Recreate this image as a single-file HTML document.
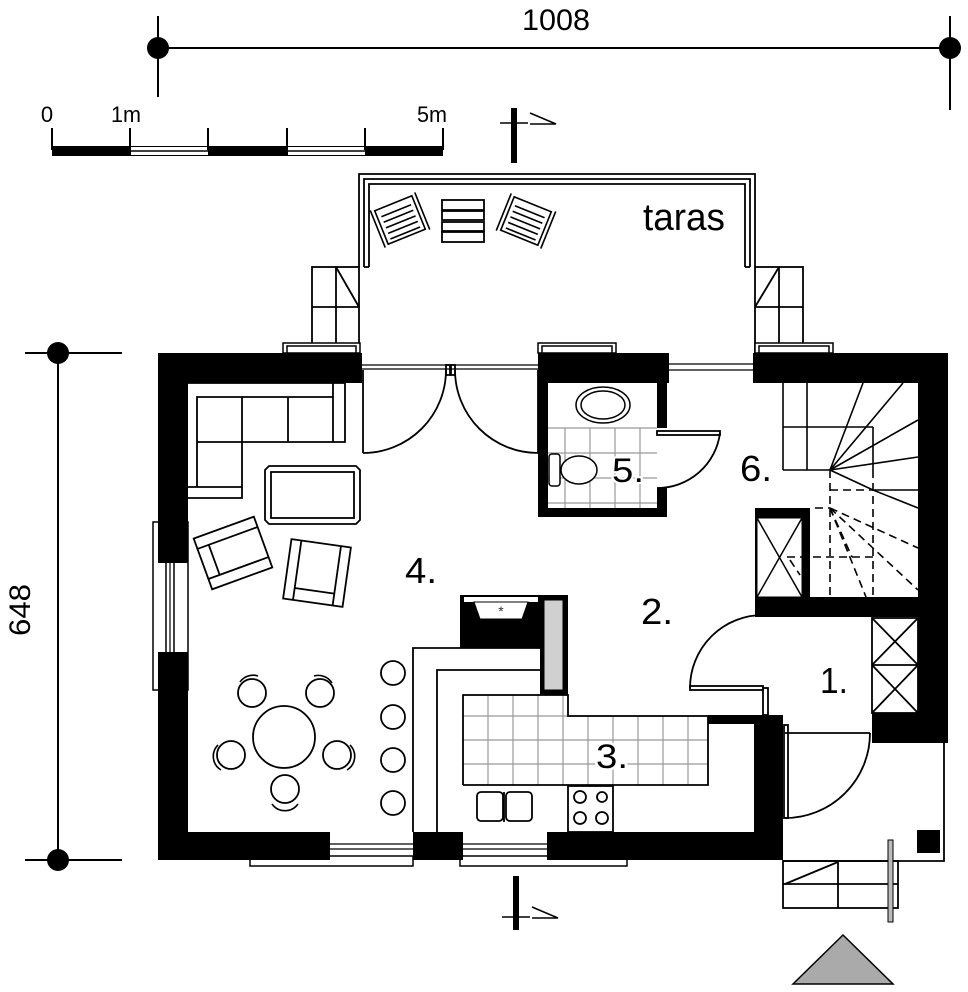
<!DOCTYPE html>
<html><head><meta charset="utf-8"><style>
html,body{margin:0;padding:0;background:#fff;}
svg{display:block;font-family:"Liberation Sans",Arial,sans-serif;}
</style></head><body>
<svg width="968" height="992" viewBox="0 0 968 992" xmlns="http://www.w3.org/2000/svg">
<rect width="968" height="992" fill="#fff"/>
<g stroke="#000" fill="none" stroke-width="2">
<line x1="158" y1="48" x2="950" y2="48"/>
<line x1="158" y1="16" x2="158" y2="97"/>
<line x1="950" y1="16" x2="950" y2="110"/>
<line x1="58" y1="353" x2="58" y2="860"/>
<line x1="25" y1="353" x2="122" y2="353"/>
<line x1="25" y1="860" x2="122" y2="860"/>
</g>
<circle cx="158" cy="48" r="11"/><circle cx="950" cy="48" r="11"/>
<circle cx="58" cy="353" r="11"/><circle cx="58" cy="860" r="11"/>
<text x="556" y="30" font-size="30" text-anchor="middle" textLength="68" lengthAdjust="spacingAndGlyphs">1008</text>
<text transform="translate(30,610) rotate(-90)" font-size="30" text-anchor="middle" textLength="52" lengthAdjust="spacingAndGlyphs">648</text>

<g>
<rect x="52" y="146" width="391" height="10" fill="#000"/>
<rect x="131" y="147" width="77" height="8" fill="#fff"/>
<rect x="288" y="147" width="77" height="8" fill="#fff"/>
<line x1="131" y1="151" x2="208" y2="151" stroke="#000" stroke-width="1.5"/>
<line x1="288" y1="151" x2="365" y2="151" stroke="#000" stroke-width="1.5"/>
<g stroke="#000" stroke-width="2">
<line x1="52" y1="128" x2="52" y2="150"/><line x1="130" y1="128" x2="130" y2="150"/>
<line x1="208" y1="128" x2="208" y2="150"/><line x1="287" y1="128" x2="287" y2="150"/>
<line x1="365" y1="128" x2="365" y2="150"/><line x1="443" y1="128" x2="443" y2="150"/>
</g>
<text x="47" y="122" font-size="22" text-anchor="middle">0</text>
<text x="126" y="122" font-size="22" text-anchor="middle" textLength="30" lengthAdjust="spacingAndGlyphs">1m</text>
<text x="432" y="122" font-size="22" text-anchor="middle" textLength="30" lengthAdjust="spacingAndGlyphs">5m</text>
</g>

<rect x="511" y="108" width="6" height="55" fill="#000"/>
<line x1="500" y1="123" x2="528" y2="123" stroke="#000" stroke-width="1.5"/>
<polyline points="530,113 556,124 530,124" fill="none" stroke="#000" stroke-width="1.5"/>
<rect x="513" y="876" width="6" height="54" fill="#000"/>
<line x1="502" y1="917" x2="530" y2="917" stroke="#000" stroke-width="1.5"/>
<polyline points="532,907 558,918 532,918" fill="none" stroke="#000" stroke-width="1.5"/>

<g stroke="#000" fill="none" stroke-width="1.8">
<path d="M359 267 V174 H755 V267"/>
<path d="M364 267 V179 H750 V267"/>
<path d="M369 267 V184 H745 V267"/>
<line x1="364" y1="267" x2="369" y2="267"/><line x1="745" y1="267" x2="750" y2="267"/>
<rect x="312" y="267" width="47" height="86"/>
<line x1="336" y1="267" x2="336" y2="353"/><line x1="312" y1="307" x2="359" y2="307"/>
<line x1="336" y1="267" x2="359" y2="307"/>
<rect x="755" y="267" width="48" height="86"/>
<line x1="779" y1="267" x2="779" y2="353"/><line x1="755" y1="307" x2="803" y2="307"/>
<line x1="779" y1="267" x2="755" y2="307"/>
<rect x="442" y="200" width="42" height="10"/><rect x="442" y="211" width="42" height="9"/>
<rect x="442" y="222" width="42" height="9"/><rect x="442" y="232" width="42" height="10"/>
</g>
<g transform="translate(400,220) rotate(-22)" stroke="#000" fill="none" stroke-width="1.6">
<rect x="-20" y="-18" width="40" height="36"/>
<line x1="-24" y1="-20" x2="-24" y2="20"/><line x1="24" y1="-20" x2="24" y2="20"/>
<line x1="-16" y1="-10" x2="16" y2="-10"/><line x1="-16" y1="-4" x2="16" y2="-4"/>
<line x1="-16" y1="2" x2="16" y2="2"/><line x1="-16" y1="8" x2="16" y2="8"/><line x1="-16" y1="14" x2="16" y2="14"/>
</g>
<g transform="translate(526,221) rotate(22)" stroke="#000" fill="none" stroke-width="1.6">
<rect x="-20" y="-18" width="40" height="36"/>
<line x1="-24" y1="-20" x2="-24" y2="20"/><line x1="24" y1="-20" x2="24" y2="20"/>
<line x1="-16" y1="-10" x2="16" y2="-10"/><line x1="-16" y1="-4" x2="16" y2="-4"/>
<line x1="-16" y1="2" x2="16" y2="2"/><line x1="-16" y1="8" x2="16" y2="8"/><line x1="-16" y1="14" x2="16" y2="14"/>
</g>
<text x="684" y="230" font-size="38" text-anchor="middle" textLength="82" lengthAdjust="spacingAndGlyphs">taras</text>

<g stroke="#000" fill="#fff" stroke-width="1.5">
<rect x="283" y="343" width="77" height="10"/><rect x="287" y="346" width="69" height="7"/>
<rect x="538" y="343" width="78" height="10"/><rect x="542" y="346" width="70" height="7"/>
<rect x="755" y="343" width="78" height="10"/><rect x="759" y="346" width="70" height="7"/>
<rect x="153" y="522" width="35" height="168"/>
<rect x="166" y="560" width="8" height="95"/>
<rect x="250" y="856" width="163" height="10"/>
<rect x="460" y="856" width="167" height="10"/>
</g>

<g fill="#000">
<rect x="158" y="353" width="204" height="30"/>
<rect x="158" y="353" width="30" height="210"/>
<rect x="158" y="652" width="30" height="208"/>
<rect x="158" y="832" width="172" height="28"/>
<rect x="413" y="832" width="50" height="28"/>
<rect x="547" y="832" width="236" height="28"/>
<rect x="754" y="715" width="29" height="145"/>
<rect x="708" y="715" width="75" height="9"/>
<rect x="538" y="353" width="131" height="30"/>
<rect x="538" y="353" width="10" height="164"/>
<rect x="538" y="508" width="129" height="9"/>
<rect x="657" y="353" width="10" height="75"/>
<rect x="657" y="488" width="10" height="29"/>
<rect x="753" y="353" width="195" height="30"/>
<rect x="918" y="353" width="30" height="390"/>
<rect x="872" y="713" width="76" height="30"/>
<rect x="755" y="597" width="193" height="20"/>
<rect x="755" y="508" width="55" height="109"/>
<rect x="460" y="595" width="108" height="53"/>
<rect x="540" y="595" width="28" height="100"/>
</g>
<rect x="757" y="518" width="45" height="79" fill="#fff" stroke="#000" stroke-width="1"/>
<g stroke="#000" stroke-width="1.5"><line x1="757" y1="518" x2="802" y2="597"/><line x1="802" y1="518" x2="757" y2="597"/></g>
<rect x="544" y="600" width="19" height="90" fill="#d0d0d0" stroke="#000"/>
<rect x="464" y="597" width="74" height="5" fill="#fff"/>
<polygon points="474,602 528,602 522,619 480,619" fill="#fff" stroke="#000"/>
<text x="501" y="616" font-size="14" text-anchor="middle" fill="#333">*</text>

<g stroke="#000" stroke-width="1.2">
<line x1="362" y1="365" x2="538" y2="365"/><line x1="362" y1="369" x2="538" y2="369"/>
<line x1="669" y1="364" x2="753" y2="364"/><line x1="669" y1="370" x2="753" y2="370"/>
<line x1="330" y1="844" x2="413" y2="844"/><line x1="330" y1="849" x2="413" y2="849"/>
<line x1="463" y1="844" x2="547" y2="844"/><line x1="463" y1="849" x2="547" y2="849"/>
<line x1="170" y1="563" x2="170" y2="652"/>
</g>

<g stroke="#000" fill="none" stroke-width="1.8">
<line x1="363" y1="370" x2="363" y2="453"/><path d="M363 453 A83 83 0 0 0 446 370"/>
<line x1="538" y1="370" x2="538" y2="453"/><path d="M538 453 A83 83 0 0 1 455 370"/>
<rect x="446" y="365" width="4" height="10"/><rect x="451" y="365" width="4" height="10"/>
<rect x="657" y="431" width="63" height="4"/><path d="M720 433 A63 63 0 0 1 657 488"/>
<rect x="690" y="686" width="73" height="4"/><path d="M690 688 A73 73 0 0 1 763 615"/>
<rect x="763" y="688" width="5" height="27"/>
<line x1="785" y1="733" x2="870" y2="733"/><path d="M870 733 A85 85 0 0 1 785 818"/>
<rect x="784" y="725" width="4" height="93"/>
<polyline points="944,743 944,861 783,861"/>
<rect x="783" y="861" width="115" height="47"/>
<line x1="783" y1="884" x2="898" y2="884"/><line x1="838" y1="861" x2="838" y2="908"/>
<line x1="785" y1="884" x2="838" y2="862"/>
<rect x="872" y="618" width="46" height="95"/>
<line x1="872" y1="665" x2="918" y2="665"/>
<line x1="872" y1="618" x2="918" y2="665"/><line x1="918" y1="618" x2="872" y2="665"/>
<line x1="872" y1="665" x2="918" y2="713"/><line x1="918" y1="665" x2="872" y2="713"/>
</g>
<rect x="917" y="830" width="23" height="23" fill="#000"/>
<rect x="888" y="840" width="5" height="82" fill="#bbb" stroke="#000"/>
<polygon points="843,935 793,984 893,984" fill="#aaa" stroke="#000" stroke-width="1.5"/>

<g stroke="#000" fill="none" stroke-width="1.6">
<line x1="783" y1="383" x2="783" y2="470"/><line x1="807" y1="383" x2="807" y2="470"/>
<line x1="783" y1="470" x2="830" y2="470"/><line x1="783" y1="427" x2="873" y2="427"/>
<line x1="873" y1="427" x2="873" y2="470"/>
<line x1="830" y1="470" x2="863" y2="383"/><line x1="830" y1="470" x2="903" y2="383"/>
<line x1="830" y1="470" x2="918" y2="420"/><line x1="830" y1="470" x2="918" y2="457"/>
<line x1="830" y1="470" x2="873" y2="490"/><line x1="873" y1="490" x2="918" y2="508"/>
<line x1="873" y1="490" x2="918" y2="490"/>
</g>
<g stroke="#000" fill="none" stroke-width="1.6" stroke-dasharray="8,5">
<line x1="830" y1="470" x2="830" y2="597"/><line x1="873" y1="470" x2="873" y2="597"/>
<line x1="830" y1="490" x2="873" y2="490"/><line x1="787" y1="557" x2="873" y2="557"/>
<line x1="830" y1="508" x2="918" y2="548"/><line x1="830" y1="508" x2="918" y2="590"/>
<line x1="830" y1="508" x2="866" y2="597"/><line x1="830" y1="508" x2="852" y2="557"/>
<line x1="815" y1="508" x2="830" y2="508"/><line x1="790" y1="560" x2="800" y2="575"/>
</g>

<g stroke="#999" stroke-width="1.2">
<line x1="548" y1="428" x2="657" y2="428"/><line x1="548" y1="453" x2="657" y2="453"/>
<line x1="548" y1="478" x2="657" y2="478"/><line x1="548" y1="503" x2="657" y2="503"/>
<line x1="565" y1="428" x2="565" y2="508"/><line x1="590" y1="428" x2="590" y2="508"/>
<line x1="615" y1="428" x2="615" y2="508"/><line x1="640" y1="428" x2="640" y2="508"/>
</g>
<g stroke="#000" fill="#fff" stroke-width="1.5">
<ellipse cx="603" cy="405" rx="27" ry="18"/><ellipse cx="603" cy="405" rx="22" ry="14"/>
<rect x="549" y="454" width="11" height="32" rx="3"/>
<ellipse cx="579" cy="470" rx="18" ry="14"/>
</g>
<text x="628" y="482" font-size="34" text-anchor="middle" textLength="32" lengthAdjust="spacingAndGlyphs" fill="#000" stroke="#fff" stroke-width="4" paint-order="stroke">5.</text>

<g stroke="#999" stroke-width="1.2">
<line x1="463" y1="695" x2="540" y2="695"/>
<line x1="463" y1="716" x2="708" y2="716"/><line x1="463" y1="740" x2="708" y2="740"/>
<line x1="463" y1="764" x2="708" y2="764"/>
<line x1="488" y1="695" x2="488" y2="785"/><line x1="513" y1="695" x2="513" y2="785"/>
<line x1="538" y1="695" x2="538" y2="785"/><line x1="563" y1="695" x2="563" y2="785"/>
<line x1="588" y1="716" x2="588" y2="785"/><line x1="613" y1="716" x2="613" y2="785"/>
<line x1="638" y1="716" x2="638" y2="785"/><line x1="663" y1="716" x2="663" y2="785"/>
<line x1="688" y1="716" x2="688" y2="785"/>
</g>
<g stroke="#000" fill="none" stroke-width="1.8">
<polyline points="463,785 463,695 568,695 568,716 708,716 708,785 463,785"/>
<polyline points="413,832 413,648 540,648"/>
<polyline points="437,832 437,670 540,670"/>
<rect x="477" y="792" width="26" height="29" rx="4"/><rect x="506" y="792" width="26" height="29" rx="4"/>
<line x1="504" y1="792" x2="504" y2="822"/>
<rect x="568" y="786" width="45" height="46"/>
<circle cx="580" cy="797" r="6"/><circle cx="602" cy="797" r="5"/>
<circle cx="580" cy="818" r="6"/><circle cx="602" cy="818" r="6"/>
</g>
<text x="612" y="768" font-size="34" text-anchor="middle" textLength="32" lengthAdjust="spacingAndGlyphs" fill="#000" stroke="#fff" stroke-width="5" paint-order="stroke">3.</text>

<g stroke="#000" fill="#fff" stroke-width="1.8">
<circle cx="393" cy="673" r="12"/><circle cx="393" cy="717" r="12"/>
<circle cx="393" cy="760" r="12"/><circle cx="393" cy="803" r="12"/>
<circle cx="284" cy="737" r="31"/>
<circle cx="252" cy="693" r="14"/><circle cx="320" cy="693" r="14"/>
<circle cx="231" cy="755" r="14"/><circle cx="337" cy="755" r="14"/>
<circle cx="285" cy="789" r="14"/>
</g>
<g stroke="#000" fill="none" stroke-width="1.6">
<path d="M240 682 A16 16 0 0 1 258 676"/><path d="M314 676 A16 16 0 0 1 332 683"/>
<path d="M218 745 A16 16 0 0 0 221 770"/><path d="M350 745 A16 16 0 0 1 347 770"/>
<path d="M272 804 A16 16 0 0 0 298 804"/>
</g>

<g stroke="#000" fill="none" stroke-width="1.8">
<polyline points="188,383 345,383 345,442 242,442 242,498 188,498"/>
<line x1="333" y1="383" x2="333" y2="442"/>
<polyline points="197,487 197,397 333,397"/>
<line x1="242" y1="397" x2="242" y2="442"/><line x1="288" y1="397" x2="288" y2="442"/>
<line x1="197" y1="442" x2="242" y2="442"/><line x1="188" y1="487" x2="242" y2="487"/>
<path d="M269 466 H356 L360 470 V520 L356 524 H269 L265 520 V470 Z"/>
<rect x="271" y="472" width="83" height="46"/>
</g>
<g transform="translate(233,553) rotate(-20)" stroke="#000" fill="none" stroke-width="1.8">
<rect x="-32" y="-27" width="64" height="54"/>
<line x1="-32" y1="-16" x2="32" y2="-16"/><line x1="-32" y1="16" x2="32" y2="16"/>
<line x1="-20" y1="-16" x2="-20" y2="16"/>
</g>
<g transform="translate(317,573) rotate(8)" stroke="#000" fill="none" stroke-width="1.8">
<rect x="-30" y="-30" width="60" height="60"/>
<line x1="-20" y1="-30" x2="-20" y2="30"/><line x1="20" y1="-30" x2="20" y2="30"/>
<line x1="-20" y1="18" x2="20" y2="18"/>
</g>

<g font-size="36" fill="#000" text-anchor="middle">
<text x="421" y="583" textLength="32" lengthAdjust="spacingAndGlyphs">4.</text>
<text x="657" y="624" textLength="32" lengthAdjust="spacingAndGlyphs">2.</text>
<text x="756" y="481" textLength="32" lengthAdjust="spacingAndGlyphs">6.</text>
<text x="834" y="693" textLength="28" lengthAdjust="spacingAndGlyphs">1.</text>
</g>
</svg>
</body></html>
